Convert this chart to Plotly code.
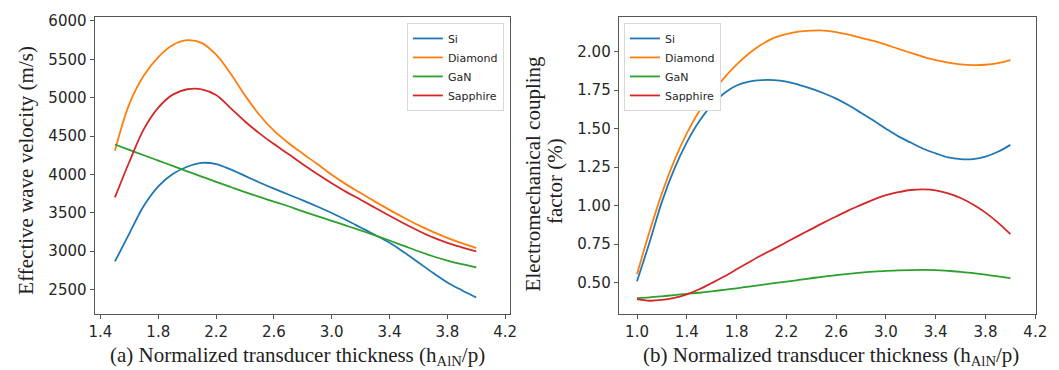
import plotly.graph_objects as go

# ---------------- data ----------------
materials = ["Si", "Diamond", "GaN", "Sapphire"]
colors = ["#1f77b4", "#ff7f0e", "#2ca02c", "#d62728"]

# (a) effective wave velocity (m/s) vs normalized thickness
thick_a = [1.5, 1.6, 1.7, 1.8, 1.9, 2.0, 2.1, 2.2, 2.3, 2.4, 2.5, 2.6, 2.7, 2.8,
           2.9, 3.0, 3.1, 3.2, 3.3, 3.4, 3.5, 3.6, 3.7, 3.8, 3.9, 4.0]
vel_si = [2865, 3230, 3590, 3845, 4005, 4100, 4150, 4135, 4065, 3980, 3895, 3815, 3738,
          3662, 3582, 3497, 3405, 3308, 3210, 3108, 2985, 2852, 2718, 2592, 2490, 2395]
vel_diamond = [4310, 4920, 5290, 5530, 5688, 5750, 5715, 5560, 5315, 5030, 4775, 4570, 4410,
               4270, 4135, 3995, 3870, 3757, 3645, 3538, 3435, 3338, 3250, 3172, 3103, 3040]
vel_gan = [4390, 4320, 4250, 4180, 4110, 4040, 3972, 3903, 3836, 3770, 3706, 3645, 3585,
           3518, 3457, 3395, 3332, 3270, 3205, 3138, 3068, 2998, 2933, 2876, 2829, 2788]
vel_sapphire = [3700, 4165, 4590, 4870, 5040, 5110, 5110, 5035, 4865, 4690, 4535, 4395, 4265,
                4132, 4005, 3885, 3772, 3670, 3565, 3460, 3360, 3265, 3178, 3108, 3050, 2997]

# (b) electromechanical coupling factor (%) vs normalized thickness
thick_b = [1.0, 1.1, 1.2, 1.3, 1.4, 1.5, 1.6, 1.7, 1.8, 1.9, 2.0, 2.1, 2.2, 2.3, 2.4, 2.5,
           2.6, 2.7, 2.8, 2.9, 3.0, 3.1, 3.2, 3.3, 3.4, 3.5, 3.6, 3.7, 3.8, 3.9, 4.0]
k_si = [0.51, 0.76, 1.025, 1.239, 1.411, 1.548, 1.653, 1.73, 1.78, 1.805, 1.815, 1.815,
        1.805, 1.785, 1.76, 1.73, 1.695, 1.652, 1.603, 1.553, 1.50, 1.45, 1.41, 1.37,
        1.34, 1.313, 1.302, 1.303, 1.318, 1.35, 1.395]
k_diamond = [0.555, 0.83, 1.08, 1.293, 1.469, 1.613, 1.727, 1.83, 1.916, 1.988, 2.046,
             2.09, 2.114, 2.13, 2.136, 2.137, 2.127, 2.11, 2.09, 2.07, 2.045, 2.018, 1.992,
             1.966, 1.945, 1.929, 1.918, 1.913, 1.915, 1.925, 1.945]
k_gan = [0.40, 0.405, 0.412, 0.42, 0.428, 0.435, 0.444, 0.454, 0.464, 0.475, 0.486, 0.497,
         0.507, 0.518, 0.529, 0.54, 0.549, 0.558, 0.566, 0.572, 0.577, 0.58, 0.582, 0.583,
         0.582, 0.577, 0.571, 0.562, 0.552, 0.541, 0.53]
k_sapphire = [0.393, 0.383, 0.388, 0.402, 0.425, 0.458, 0.498, 0.54, 0.587, 0.633, 0.678,
              0.72, 0.763, 0.806, 0.848, 0.89, 0.93, 0.97, 1.005, 1.04, 1.068, 1.088, 1.102,
              1.106, 1.10, 1.08, 1.05, 1.008, 0.955, 0.89, 0.815]

ticks_a = [1.4, 1.8, 2.2, 2.6, 3.0, 3.4, 3.8, 4.2]
ticks_b = [1.0, 1.4, 1.8, 2.2, 2.6, 3.0, 3.4, 3.8, 4.2]
yticks_a = [2500, 3000, 3500, 4000, 4500, 5000, 5500, 6000]
yticks_b = [0.50, 0.75, 1.00, 1.25, 1.50, 1.75, 2.00]

# ---------------- figure ----------------
W, H = 1059, 370
ML, MR, MT, MB = 0, 0, 17, 56
fig = go.Figure()

series_a = [vel_si, vel_diamond, vel_gan, vel_sapphire]
series_b = [k_si, k_diamond, k_gan, k_sapphire]
for name, col, ys in zip(materials, colors, series_a):
    fig.add_trace(go.Scatter(x=thick_a, y=ys, name=name, mode="lines",
                             line=dict(color=col, width=1.8, shape="spline", smoothing=1.0),
                             xaxis="x", yaxis="y", legend="legend"))
for name, col, ys in zip(materials, colors, series_b):
    fig.add_trace(go.Scatter(x=thick_b, y=ys, name=name, mode="lines",
                             line=dict(color=col, width=1.8, shape="spline", smoothing=1.0),
                             xaxis="x2", yaxis="y2", legend="legend2"))

tickfont = dict(family="DejaVu Sans", size=15, color="#262626")
axis_common = dict(showline=True, mirror=True, linecolor="#555555", linewidth=1,
                   ticks="outside", ticklen=4, tickcolor="#555555", showgrid=False,
                   zeroline=False, tickfont=tickfont)

def px2x(px):
    return px / W

fig.update_layout(
    width=W, height=H, paper_bgcolor="white", plot_bgcolor="white",
    margin=dict(l=ML, r=MR, t=MT, b=MB),
    xaxis=dict(domain=[px2x(90), px2x(512)], range=[1.359, 4.232], tickvals=ticks_a,
               tickformat=".1f", anchor="y", **axis_common),
    yaxis=dict(domain=[0, 1], range=[2180, 6052], tickvals=yticks_a, anchor="x",
               **axis_common),
    xaxis2=dict(domain=[px2x(622.7), px2x(1046.7)], range=[0.853, 4.205], tickvals=ticks_b,
                tickformat=".1f", anchor="y2", **axis_common),
    yaxis2=dict(domain=[0, 1], range=[0.297, 2.225], tickvals=yticks_b, tickformat=".2f",
                anchor="x2", **axis_common),
    legend=dict(x=px2x(506), y=0.98, xanchor="right", yanchor="top",
                bgcolor="white", bordercolor="#d9d9d9", borderwidth=1,
                font=dict(family="DejaVu Sans", size=11, color="#262626"),
                itemwidth=30, tracegroupgap=0),
    legend2=dict(x=px2x(628), y=0.98, xanchor="left", yanchor="top",
                 bgcolor="white", bordercolor="#d9d9d9", borderwidth=1,
                 font=dict(family="DejaVu Sans", size=11, color="#262626"),
                 itemwidth=30, tracegroupgap=0),
    showlegend=True,
)

serif = dict(family="Liberation Serif", size=21, color="#222222")
plot_h = H - MT - MB

def py2y(py):
    return 1 - (py - MT) / plot_h

anns = [
    dict(text="Effective wave velocity (m/s)", x=px2x(20), y=py2y(170), textangle=-90),
    dict(text="Electromechanical coupling", x=px2x(536), y=py2y(174), textangle=-90),
    dict(text="factor (%)", x=px2x(558), y=py2y(181), textangle=-90),
    dict(text="(a) Normalized transducer thickness (h<sub>AlN</sub>/p)", x=px2x(296), y=py2y(356)),
    dict(text="(b) Normalized transducer thickness (h<sub>AlN</sub>/p)", x=px2x(838), y=py2y(356)),
]
for a in anns:
    fig.add_annotation(xref="paper", yref="paper", showarrow=False, font=serif,
                       xanchor="center", yanchor="middle", **a)

fig.write_html("out.html", config={"displayModeBar": False},
               post_script="document.body.style.margin='0';document.body.style.overflow='hidden';")
